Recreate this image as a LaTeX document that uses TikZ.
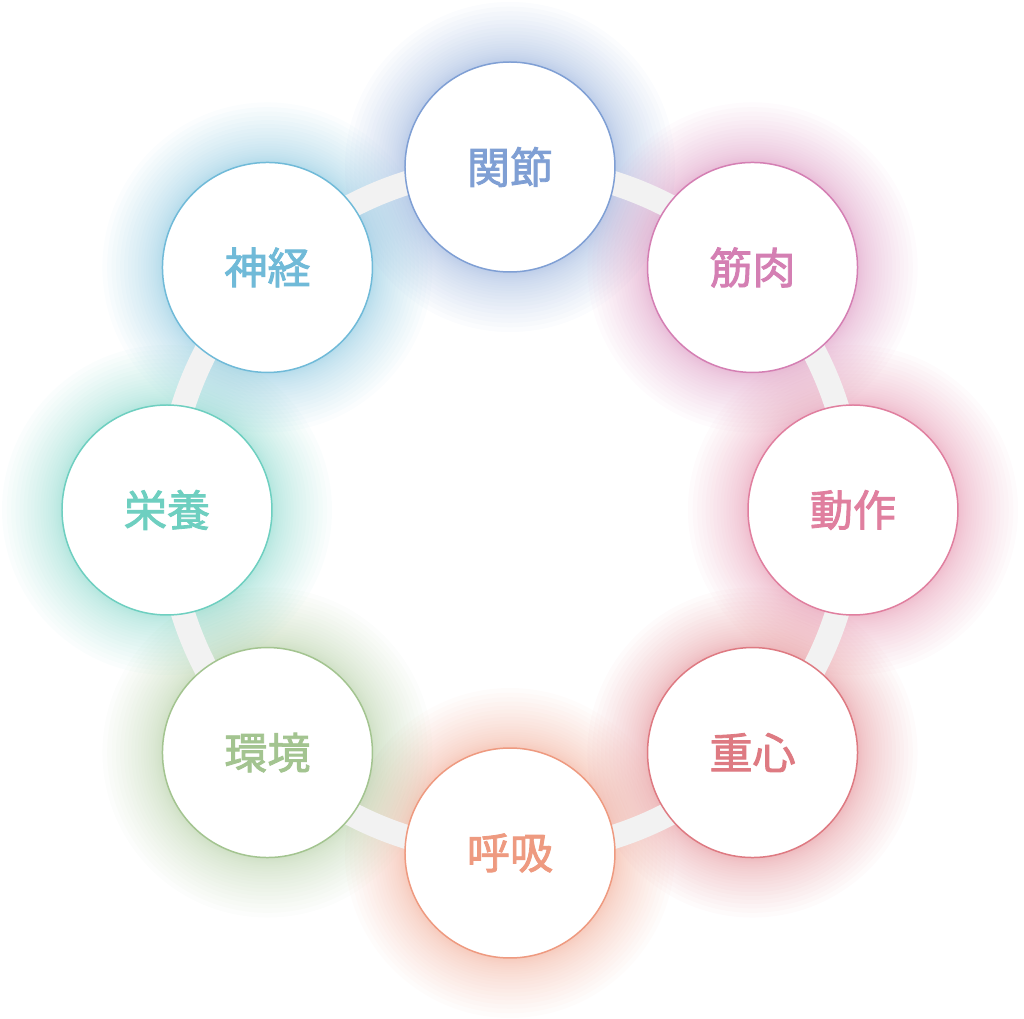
\documentclass[tikz,border=0pt]{standalone}
\usepackage{fontspec}
\setmainfont{Noto Sans CJK JP}[FakeBold=2]
\usepackage{tikz}

\definecolor{kansetsu}{HTML}{7F9FD4}
\definecolor{kinniku}{HTML}{D47FB3}
\definecolor{dousa}{HTML}{E07F9F}
\definecolor{juushin}{HTML}{DE7A82}
\definecolor{kokyuu}{HTML}{EE9A80}
\definecolor{kankyou}{HTML}{A3C490}
\definecolor{eiyou}{HTML}{6ECFC0}
\definecolor{shinkei}{HTML}{70BAD8}
\definecolor{ringgray}{HTML}{F2F2F2}

\pgfdeclarelayer{glow}
\pgfdeclarelayer{ring}
\pgfsetlayers{glow,ring,main}

\begin{document}
\begin{tikzpicture}[
  item/.style={shape=circle,draw=#1,fill=white,text=#1,line width=0.85pt,
    minimum size=4.2cm,inner sep=0,font=\fontsize{24.5}{24.5}\selectfont},
  ringline/.style={ringgray,line width=0.48cm}
]
\useasboundingbox (-10.2,-10.18) rectangle (10.28,10.2);

\node[item=kansetsu] (kansetsu) at (90:6.86) {関節};
\node[item=kinniku] (kinniku) at (45:6.86) {筋肉};
\node[item=dousa] (dousa) at (0:6.86) {動作};
\node[item=juushin] (juushin) at (-45:6.86) {重心};
\node[item=kokyuu] (kokyuu) at (-90:6.86) {呼吸};
\node[item=kankyou] (kankyou) at (-135:6.86) {環境};
\node[item=eiyou] (eiyou) at (180:6.86) {栄養};
\node[item=shinkei] (shinkei) at (135:6.86) {神経};

% ring between neighbours
\begin{pgfonlayer}{ring}
\foreach \a/\b in {kansetsu/kinniku,kinniku/dousa,dousa/juushin,juushin/kokyuu,
  kokyuu/kankyou,kankyou/eiyou,eiyou/shinkei,shinkei/kansetsu}
  \draw[ringline] (\a.center) to[bend left=22.5,looseness=0.885] (\b.center);
\end{pgfonlayer}

% soft glow
\begin{pgfonlayer}{glow}
\foreach \n in {kansetsu,kinniku,dousa,juushin,kokyuu,kankyou,eiyou,shinkei}
  \foreach \k in {1,...,25}
    \fill[\n,opacity=0.03] (\n.center) circle ({2.1+1.2*(\k/25)^2});
\end{pgfonlayer}
\end{tikzpicture}
\end{document}
